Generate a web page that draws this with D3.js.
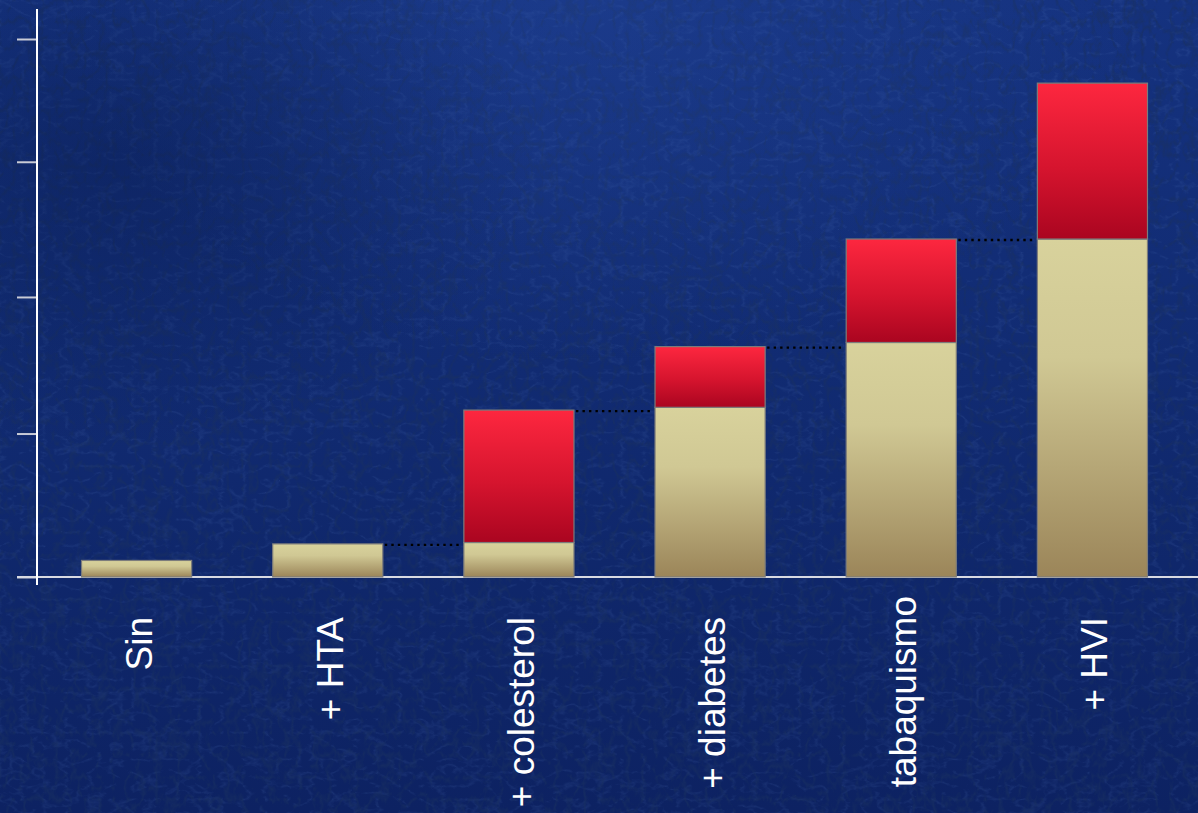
<!DOCTYPE html>
<html>
<head>
<meta charset="utf-8">
<script src="https://cdn.jsdelivr.net/npm/d3@7"></script>
<style>
  html, body { margin: 0; padding: 0; background: #0f2566; }
  svg { display: block; }
</style>
</head>
<body>
<svg id="chart" width="1198" height="813"></svg>
<script>
// ---- data ----
const categories = ["Sin", "+ HTA", "+ colesterol", "+ diabetes", "tabaquismo", "+ HVI"];
const baseValues = [1.2, 2.4, 2.5, 12.3, 17.0, 24.5];
const addedValues = [0, 0, 9.6, 4.4, 7.5, 11.3];
const tickValues = [0, 10.4, 20.3, 30.1, 39];

const W = 1198, H = 813;
const svg = d3.select("#chart");
const defs = svg.append("defs");

// background gradients
const bgLin = defs.append("linearGradient").attr("id", "bgLin").attr("x1", 0).attr("y1", 0).attr("x2", 0).attr("y2", 1);
bgLin.append("stop").attr("offset", "0%").attr("stop-color", "#15327f");
bgLin.append("stop").attr("offset", "45%").attr("stop-color", "#112b72");
bgLin.append("stop").attr("offset", "100%").attr("stop-color", "#0d2262");

const bgRad = defs.append("radialGradient").attr("id", "bgRad")
  .attr("cx", 0.5).attr("cy", 0.0).attr("r", 0.45);
bgRad.append("stop").attr("offset", "0%").attr("stop-color", "#2a4fa6").attr("stop-opacity", 0.3);
bgRad.append("stop").attr("offset", "100%").attr("stop-color", "#2a4fa6").attr("stop-opacity", 0);

const bgDark = defs.append("radialGradient").attr("id", "bgDark")
  .attr("cx", 0.1).attr("cy", 0.2).attr("r", 0.35);
bgDark.append("stop").attr("offset", "0%").attr("stop-color", "#071848").attr("stop-opacity", 0.4);
bgDark.append("stop").attr("offset", "100%").attr("stop-color", "#071848").attr("stop-opacity", 0);

// dark fibrous texture
const filt = defs.append("filter").attr("id", "tex").attr("x", 0).attr("y", 0).attr("width", "100%").attr("height", "100%");
filt.append("feTurbulence").attr("type", "turbulence").attr("baseFrequency", "0.07 0.045").attr("numOctaves", 3).attr("seed", 11).attr("result", "n");
filt.append("feColorMatrix").attr("in", "n").attr("type", "matrix")
  .attr("values", "0 0 0 0 0.01  0 0 0 0 0.03  0 0 0 0 0.12  -3.5 0 0 0 1.0");
// light texture
const filt2 = defs.append("filter").attr("id", "tex2").attr("x", 0).attr("y", 0).attr("width", "100%").attr("height", "100%");
filt2.append("feTurbulence").attr("type", "turbulence").attr("baseFrequency", "0.045 0.075").attr("numOctaves", 3).attr("seed", 3).attr("result", "n");
filt2.append("feColorMatrix").attr("in", "n").attr("type", "matrix")
  .attr("values", "0 0 0 0 0.12  0 0 0 0 0.24  0 0 0 0 0.60  -3.5 0 0 0 0.85");

svg.append("rect").attr("width", W).attr("height", H).attr("fill", "url(#bgLin)");
svg.append("rect").attr("width", W).attr("height", H).attr("filter", "url(#tex2)").attr("opacity", 0.16);
svg.append("rect").attr("width", W).attr("height", H).attr("filter", "url(#tex)").attr("opacity", 0.65);
svg.append("rect").attr("width", W).attr("height", H).attr("fill", "url(#bgRad)");
svg.append("rect").attr("width", W).attr("height", H).attr("fill", "url(#bgDark)");

// bar gradients
const gBeige = defs.append("linearGradient").attr("id", "beige").attr("x1", 0).attr("y1", 0).attr("x2", 0).attr("y2", 1);
gBeige.append("stop").attr("offset", "0%").attr("stop-color", "#d8d29c");
gBeige.append("stop").attr("offset", "35%").attr("stop-color", "#d0c894");
gBeige.append("stop").attr("offset", "100%").attr("stop-color", "#9b8559");

const gRed = defs.append("linearGradient").attr("id", "red").attr("x1", 0).attr("y1", 0).attr("x2", 0).attr("y2", 1);
gRed.append("stop").attr("offset", "0%").attr("stop-color", "#fd273f");
gRed.append("stop").attr("offset", "55%").attr("stop-color", "#d5142e");
gRed.append("stop").attr("offset", "100%").attr("stop-color", "#aa0520");

// scales
const x = d3.scaleBand().domain(categories).range([41, 1188]).paddingInner(0.424).paddingOuter(0.212);
const y = d3.scaleLinear().domain([0, 39]).range([577, 39]);
const bw = x.bandwidth();

// axis ticks
const yAxis = d3.axisLeft(y).tickValues(tickValues).tickSize(20).tickFormat("");
const ga = svg.append("g").attr("transform", "translate(37,0)").call(yAxis);
ga.select(".domain").remove();
ga.selectAll(".tick line").attr("stroke", "#c9cbd6").attr("stroke-width", 2);

// baseline
svg.append("line").attr("x1", 17).attr("x2", W).attr("y1", y(0)).attr("y2", y(0))
  .attr("stroke", "#d8dae2").attr("stroke-width", 2);

// bars
const data = categories.map((c, i) => ({ c, base: baseValues[i], add: addedValues[i] }));
const bars = svg.append("g");
bars.selectAll("rect.base").data(data).join("rect").attr("class", "base")
  .attr("x", d => x(d.c)).attr("width", bw)
  .attr("y", d => y(d.base)).attr("height", d => y(0) - y(d.base))
  .attr("fill", "url(#beige)").attr("stroke", "#7c7c7c").attr("stroke-width", 1.2);
bars.selectAll("rect.add").data(data.filter(d => d.add > 0)).join("rect").attr("class", "add")
  .attr("x", d => x(d.c)).attr("width", bw)
  .attr("y", d => y(d.base + d.add)).attr("height", d => y(d.base) - y(d.base + d.add))
  .attr("fill", "url(#red)").attr("stroke", "#7c7c7c").attr("stroke-width", 1.2);

// dotted connectors from previous total to next bar
const conns = data.slice(2).map((d, k) => {
  const prev = data[k + 1];
  return { x1: x(prev.c) + bw, x2: x(d.c), v: prev.base + prev.add };
});
svg.append("g").selectAll("line").data(conns).join("line")
  .attr("x1", d => d.x1 + 2).attr("x2", d => d.x2 - 2)
  .attr("y1", d => y(d.v) + 1).attr("y2", d => y(d.v) + 1)
  .attr("stroke", "#000").attr("stroke-width", 2.4).attr("stroke-dasharray", "2.4 4.1");

// y axis line
svg.append("line").attr("x1", 37).attr("x2", 37).attr("y1", 9).attr("y2", 585)
  .attr("stroke", "#ffffff").attr("stroke-width", 2);

// category labels
svg.append("g").selectAll("text").data(categories).join("text")
  .attr("transform", c => `translate(${x(c) + bw / 2 + 15},${c === "tabaquismo" ? 596 : 617}) rotate(-90)`)
  .attr("text-anchor", "end")
  .attr("fill", "#ffffff")
  .attr("font-family", "'Liberation Sans', Arial, sans-serif")
  .attr("font-size", 37)
  .text(c => c);
</script>
</body>
</html>
